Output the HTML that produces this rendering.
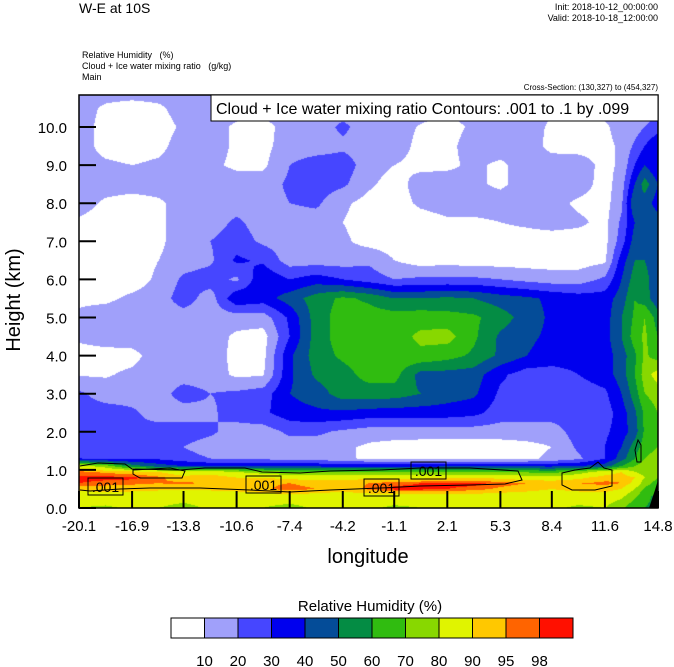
<!DOCTYPE html>
<html><head><meta charset="utf-8">
<style>
body{margin:0;background:#fff;width:674px;height:667px;overflow:hidden;font-family:"Liberation Sans",sans-serif;}
#root{position:relative;width:674px;height:667px;}
.t{position:absolute;white-space:nowrap;color:#000;}
canvas{position:absolute;left:79px;top:95px;}
svg{position:absolute;left:0;top:0;}
</style></head>
<body><div id="root">
<div class="t" style="left:79px;top:0px;font-size:14px;">W-E at 10S</div>
<div class="t" style="right:16px;top:2px;font-size:9px;text-align:right;">Init: 2018-10-12_00:00:00</div>
<div class="t" style="right:16px;top:13px;font-size:9px;text-align:right;">Valid: 2018-10-18_12:00:00</div>
<div class="t" style="left:82px;top:50px;font-size:9px;line-height:11px;">Relative Humidity &nbsp; (%)<br>Cloud + Ice water mixing ratio &nbsp; (g/kg)<br>Main</div>
<div class="t" style="right:16px;top:83px;font-size:8px;">Cross-Section: (130,327) to (454,327)</div>
<canvas id="cv" width="579" height="413"></canvas>
<svg id="sv" width="674" height="667"></svg>
</div>
<script>
const lons=[-20.1,-18.5,-16.9,-15.3,-13.8,-12.2,-10.6,-9.0,-7.4,-5.8,-4.2,-2.6,-1.1,0.5,2.1,3.7,5.3,6.9,8.4,10.0,11.6,12.6,13.4,14.0,14.8];
const heights=[0,0.3,0.5,0.65,0.8,0.95,1.1,1.3,1.6,2,2.5,3,3.5,4,4.5,5,5.5,6,6.5,7,7.5,8,8.5,9,9.5,10,10.5,10.9];
const rh=[
[80,78,82,80,76,82,84,80,76,82,84,82,78,80,84,82,80,84,82,78,80,72,62,60,58],
[85,87,86,86,85,86,86,86,87,86,86,86,86,86,86,86,86,86,86,86,86,82,72,62,58],
[92,92,92,91,91,91,92,94,97,95,92,96,99,99,98,97,94,92,90,92,93,90,80,68,60],
[98,97,96,95,96,94,93,94,95,93,94,95,97,98,99,99,97,95,94,95,96,95,88,75,65],
[99,99,99,96,92,95,90,90,88,87,87,88,88,88,90,90,88,86,85,88,93,94,90,80,70],
[96,94,92,90,85,85,80,75,70,68,68,68,68,70,70,68,68,68,65,75,85,90,80,75,70],
[85,75,55,45,40,38,38,38,38,38,37,37,37,37,38,38,38,38,38,40,45,60,70,75,75],
[30,28,28,28,24,20,18,18,15,15,12,8,7,6,6,6,6,8,12,18,30,45,60,70,75],
[25,25,25,24,20,15,15,15,15,15,12,8,6,5,5,5,5,7,10,22,30,40,55,65,70],
[25,25,22,25,25,22,15,15,22,22,18,15,15,15,15,15,15,15,15,25,28,35,45,62,70],
[25,25,22,15,15,18,25,28,36,38,38,36,35,35,35,33,25,25,25,25,25,35,48,62,70],
[22,15,15,15,25,20,22,25,40,45,55,55,55,50,45,42,28,25,25,25,28,40,55,70,75],
[9,9,12,15,15,15,8,9,38,52,56,64,64,46,46,45,32,25,25,30,35,45,60,75,85],
[6,6,7,15,15,15,7,7,38,55,62,66,66,68,64,58,48,40,36,35,35,45,58,72,65],
[12,15,15,15,15,15,8,6,30,55,65,66,66,72,74,62,48,42,38,35,36,50,65,72,60],
[12,15,15,15,15,15,15,15,32,55,65,65,65,66,64,62,55,45,38,35,35,50,62,70,55],
[8,8,12,15,25,15,38,35,45,55,62,58,50,50,52,50,45,42,38,35,35,45,60,55,42],
[5,5,5,12,22,25,18,38,30,35,30,25,20,22,22,22,20,17,15,15,22,40,55,55,40],
[6,5,5,10,15,18,32,28,15,15,15,18,10,5,6,5,5,5,5,5,8,35,50,50,40],
[6,5,5,8,15,20,25,18,15,15,12,6,5,5,5,5,5,5,5,5,7,25,45,50,45],
[8,5,5,8,15,15,22,15,15,15,10,5,5,5,8,8,10,12,14,12,7,22,40,50,45],
[15,8,5,8,15,15,15,15,20,22,12,6,5,12,15,15,15,15,14,8,6,18,50,45,35],
[15,15,15,15,15,15,15,15,22,25,22,12,5,15,15,12,8,15,15,15,6,15,40,55,40],
[15,12,10,12,15,12,8,8,20,25,25,15,10,7,8,12,8,15,15,15,7,12,30,40,30],
[15,6,4,7,15,15,8,7,15,15,18,15,15,7,7,15,15,15,7,6,7,12,22,30,40],
[15,6,4,5,12,15,8,6,15,15,22,15,15,9,6,12,15,15,8,6,8,15,15,20,25],
[15,8,5,8,15,12,15,15,15,15,15,15,15,15,12,15,15,15,12,12,15,15,15,15,15],
[15,15,15,15,15,15,15,15,15,15,15,15,15,15,15,15,15,15,15,15,15,15,15,15,20]];
const levels=[10,20,30,40,50,60,70,80,90,95,98];
const levelLabels=["10","20","30","40","50","60","70","80","90","95","98"];
const colors=["#ffffff","#a0a0fa","#4646ff","#0000ee","#044c98","#048c44","#30bc10","#88d800","#e0f400","#ffc800","#ff6400","#ff1000"];
const xTicks=[-20.1,-16.9,-13.8,-10.6,-7.4,-4.2,-1.1,2.1,5.3,8.4,11.6,14.8];
const yTicks=[0,1,2,3,4,5,6,7,8,9,10];

const X0=79,X1=658,Y0=508,Y1=95,LMIN=-20.1,LMAX=14.8;
function xs(l){return X0+(l-LMIN)/(LMAX-LMIN)*(X1-X0);}
function ys(h){return Y0-h*38.1;}
function hexrgb(c){return [parseInt(c.substr(1,2),16),parseInt(c.substr(3,2),16),parseInt(c.substr(5,2),16)];}
const crgb=colors.map(hexrgb);
function idx(arr,v){let i=0;while(i<arr.length-2&&v>arr[i+1])i++;return i;}
const cv=document.getElementById('cv'),ctx=cv.getContext('2d');
const img=ctx.createImageData(579,413);
for(let py=0;py<413;py++){
  const h=(Y0-(py+95+0.5))/38.1;
  const j=idx(heights,h);const fy=Math.max(0,Math.min(1,(h-heights[j])/(heights[j+1]-heights[j])));
  for(let px=0;px<579;px++){
    const l=LMIN+(px+0.5)/579*(LMAX-LMIN);
    const i=idx(lons,l);const fx=Math.max(0,Math.min(1,(l-lons[i])/(lons[i+1]-lons[i])));
    const v=(rh[j][i]*(1-fx)+rh[j][i+1]*fx)*(1-fy)+(rh[j+1][i]*(1-fx)+rh[j+1][i+1]*fx)*fy;
    let k=0;while(k<levels.length&&v>=levels[k])k++;
    const c=crgb[k];const o=(py*579+px)*4;
    img.data[o]=c[0];img.data[o+1]=c[1];img.data[o+2]=c[2];img.data[o+3]=255;
  }
}
ctx.putImageData(img,0,0);

const sv=document.getElementById('sv');const NS='http://www.w3.org/2000/svg';
function mk(tag,at){const e=document.createElementNS(NS,tag);for(const k in at)e.setAttribute(k,at[k]);sv.appendChild(e);return e;}
let e=mk('polygon',{points:'649,508 658,508 658,480 655,490',fill:'#000'});


const cpaths=["M80,466 L98,463 L125,464 L132,469 L180,470 L205,468 L245,468 L262,472 L300,473 L330,471 L380,470 L420,468 L470,468 L518,471 L522,480 L505,484 L470,485 L420,486 L380,488 L330,490 L290,492 L250,490 L200,488 L150,488 L120,489 L90,491 L80,490",
"M133,470 L170,468 L185,471 L182,478 L140,478 L133,474 Z",
"M562,473 L575,470 L590,468 L598,462 L604,468 L612,470 L612,486 L595,490 L572,490 L562,485 Z",
"M637,462 L635,450 L638,440 L641,445 L641,462 Z"];
cpaths.forEach(d=>{const p=mk('path',{d:d,fill:'none',stroke:'#000','stroke-width':1});

});
const cl=[[88,478],[246,476],[364,479],[411,462]];
cl.forEach(([x,y])=>{const r=mk('rect',{x:x,y:y,width:35,height:17,fill:'none',stroke:'#000','stroke-width':1});


const t=mk('text',{x:x+17.5,y:y+14,'font-size':14,'text-anchor':'middle','font-family':'Liberation Sans, sans-serif'});t.textContent='.001';

});
e=mk('rect',{x:79,y:95,width:579,height:413,fill:'none',stroke:'#000','stroke-width':1.5});


e=mk('rect',{x:211,y:95,width:447,height:26,fill:'#fff',stroke:'#000','stroke-width':1});


e=mk('text',{x:216,y:114,'font-size':16,'font-family':'Liberation Sans, sans-serif'});e.textContent='Cloud + Ice water mixing ratio Contours: .001 to .1 by .099';


yTicks.forEach(v=>{const y=ys(v);
const l=mk('line',{x1:79,x2:96,y1:y,y2:y,stroke:'#000','stroke-width':2});


const t=mk('text',{x:67,y:y+6,'font-size':15,'text-anchor':'end','font-family':'Liberation Sans, sans-serif'});t.textContent=v.toFixed(1);

});
xTicks.forEach(v=>{const x=xs(v);
const l=mk('line',{x1:x,x2:x,y1:491,y2:508,stroke:'#000','stroke-width':2});


const t=mk('text',{x:x,y:531,'font-size':15,'text-anchor':'middle','font-family':'Liberation Sans, sans-serif'});t.textContent=v.toFixed(1);

});
e=mk('text',{x:368,y:563,'font-size':20,'text-anchor':'middle','font-family':'Liberation Sans, sans-serif'});e.textContent='longitude';


e=mk('text',{x:0,y:0,'font-size':20,'text-anchor':'middle','font-family':'Liberation Sans, sans-serif',transform:'translate(20,300) rotate(-90)'});e.textContent='Height (km)';


e=mk('text',{x:370,y:611,'font-size':15,'text-anchor':'middle','font-family':'Liberation Sans, sans-serif'});e.textContent='Relative Humidity  (%)';


const bw=(573-171)/colors.length;
colors.forEach((c,i)=>{const r=mk('rect',{x:171+i*bw,y:618,width:bw,height:20,fill:c,stroke:'#000','stroke-width':1});

});
levelLabels.forEach((s,i)=>{const t=mk('text',{x:171+(i+1)*bw,y:666,'font-size':15,'text-anchor':'middle','font-family':'Liberation Sans, sans-serif'});t.textContent=s;

});
</script>
</body></html>
